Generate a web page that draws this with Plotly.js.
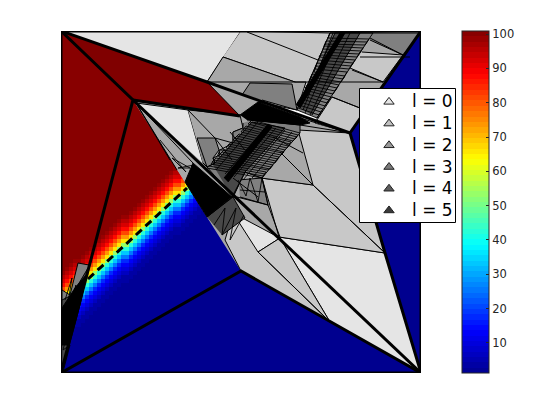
<!DOCTYPE html>
<html>
<head>
<meta charset="utf-8">
<script src="https://cdn.plot.ly/plotly-3.0.1.min.js"></script>
<style>html,body{margin:0;padding:0;background:#fff}</style>
</head>
<body>
<div id="plot" style="width:560px;height:420px"></div>
<script>
// solution field: values going away from the front, red side and blue side
const redSide = [54, 66, 74, 82, 88, 93, 96, 98, 100];
const blueSide = [42, 33, 25, 18, 13, 9, 6, 4, 3, 2];
// row of the front in each column of the 4px solution grid
const frontRow = [67,66,65,64,64,63,62,61,60,59,58,57,56,55,54,53,53,52,51,50,49,48,47,46,45,44,43,42,41,41,40,39,38,37,36,35,34,33,32,31,30,30,29,28,27];

const levelNames = ['l = 0', 'l = 1', 'l = 2', 'l = 3', 'l = 4', 'l = 5'];
const levelColors = ['#e5e5e5', '#c8c8c8', '#a8a8a8', '#808080', '#484848', '#000000'];
const legendColors = ['#e5e5e5', '#c0c0c0', '#999999', '#7a7a7a', '#5c5c5c', '#3a3a3a'];
const colorTicks = [10, 20, 30, 40, 50, 60, 70, 80, 90, 100];

const blueX = [61, 421, 241, null, 421, 350, 421];
const blueY = [373, 373, 271, null, 31, 133, 373];
const redX = [61, 207, 240, 133];
const redY = [31, 82, 116, 100];

const baseX = [133, 207, 350, 385, 421, 241, null, 330, 421, 350, 315];
const baseY = [100, 82, 133, 253, 373, 271, null, 33, 31, 133, 123];

const level0X = [61, 241, 207, null, 136, 188, 203, null, 279, 385, 421, null, 280, 330, 421, null, 233, 280, 258];
const level0Y = [31, 31, 82, null, 103, 110, 163, null, 237, 253, 373, null, 238, 322, 373, null, 213, 238, 252];
const level1X = [241, 330, 306, 295, 223, null, 298, 350, 385, 313, null, 261, 313, 385, 279, null, 233, 258, 330, 241, 225, null, 258, 280, 330, null, 362, 403, 383, 350, null, 315, 332, 365, 350];
const level1Y = [31, 33, 88, 82, 57, null, 130, 133, 253, 185, null, 178, 185, 253, 237, null, 213, 252, 322, 271, 240, null, 252, 238, 322, null, 52, 55, 82, 68, null, 123, 97, 110, 133];
const level2X = [207, 223, 295, 306, 297, 258, null, 188, 240, 243, 233, 233, 220, 215, 203, null, 298, 313, 261, 285, null, 233, 245, 262, 279, null, 136, 193, 185, null, 207, 233, 233, 225];
const level2Y = [82, 57, 82, 82, 110, 102, null, 110, 115, 128, 132, 143, 150, 162, 163, null, 130, 185, 178, 150, null, 197, 172, 178, 237, null, 103, 163, 182, null, 217, 197, 213, 240];
const level3X = [242, 250, 292, 297, 262, null, 297, 330, 373, 317, null, 373, 421, 403, 370, null, 197, 215, 219, 213, 215, 207, 203, null, 252, 300, 300, 285, 262, 245, 233, 207, 215, 213, 220, 219, 227, 233, 233, 243, 243, null, 238, 262, 268, 240, null, 62, 70, 78, 87, 89, 61];
const level3Y = [95, 83, 84, 110, 100, null, 110, 33, 33, 118, null, 33, 33, 55, 40, null, 138, 138, 150, 158, 163, 167, 163, null, 120, 125, 133, 150, 178, 172, 197, 167, 163, 158, 155, 150, 150, 143, 132, 128, 123, null, 180, 178, 205, 197, null, 290, 295, 263, 265, 265, 373];
const level4X = [213, 252, 285, 245, 232, null, 300, 335, 360, 312, null, 207, 233, 245, 222, null, 62, 72, 88, 80, 63];
const level4Y = [165, 122, 128, 172, 197, null, 108, 33, 33, 115, null, 217, 197, 218, 235, null, 300, 295, 268, 305, 368];
const level5X = [193, 232, 207, 185, null, 240, 258, 300, 310, 300, 247, null, 224, 268, 272, 228, null, 296, 340, 345, 300, null, 62, 75, 86, 78, 68, 62];
const level5Y = [163, 197, 217, 182, null, 115, 102, 117, 123, 125, 120, null, 178, 124, 127, 182, null, 105, 33, 33, 108, null, 308, 288, 275, 310, 345, 345];

const thinX = [207, 383, null, 247, 318, null, 370, 403, null, 352, 383, null, 332, 365, null, 360, 410, null, 280, 313, null, 273, 303, null, 258, 330, null, 188, 215, null, 300, 350, null, 300, 350, null, 136, 170, null, 136, 177, null, 215, 233, null, 233, 258, null, 197, 207, null, 215, 232, null, 230, 245, null, 237, 268, null, 268, 280];
const thinY = [82, 82, null, 32, 60, null, 38, 55, null, 70, 82, null, 97, 110, null, 57, 57, null, 152, 185, null, 137, 153, null, 252, 322, null, 110, 138, null, 118, 133, null, 125, 133, null, 103, 160, null, 103, 170, null, 138, 143, null, 178, 197, null, 138, 167, null, 138, 160, null, 132, 150, null, 197, 205, null, 205, 237];

// hatching of the refined cells, lines running across the bands
const meshX = [297, 317, 321, 299, 302, 325, 329, 304, 306, 333, 337, 309, 311, 341, 345, 314, 316, 349, 353, 318, 321, 357, 361, 323, 325, 365, 369, 328, 330, 373, null, 298, 319, 323, 300, 303, 327, 331, 305, 307, 335, 339, 310, 312, 343, 347, 315, 317, 351, 355, 319, 322, 359, 363, 324, 326, 367, null, 305, 340, null, 310, 350, null, 303, 333, null, 207, 262, 265, 211, 214, 268, 271, 218, 222, 275, 278, 226, 229, 281, 284, 233, 237, 287, 290, 241, 244, 293, 297, 248, 252, 300, null, 209, 263, 266, 212, 216, 270, 273, 220, 224, 276, 279, 228, 231, 282, 285, 235, 239, 288, 291, 243, 246, 295, 298, 250, null, 216, 258, null, 225, 268, null, 234, 276, null, 243, 285, null, 252, 292, null, 214, 225, 222, 236, 230, 244, null, 160, 186, 172, 190, 178, 194, null, 65, 72, 66, 76, 68, 80, null, 63, 70, 63, 68, null, 238, 246, 250, 258, 262, 268, null, 240, 265];
const meshY = [110, 118, 112, 105, 99, 106, 100, 93, 88, 94, 88, 82, 77, 82, 76, 72, 66, 69, 63, 60, 55, 57, 51, 49, 44, 45, 39, 38, 33, 33, null, 108, 115, 109, 102, 96, 103, 97, 90, 85, 91, 85, 79, 74, 79, 72, 69, 63, 66, 60, 57, 52, 54, 48, 46, 41, 42, null, 113, 33, null, 115, 33, null, 110, 33, null, 168, 178, 174, 164, 160, 170, 167, 156, 152, 163, 159, 148, 144, 155, 152, 140, 136, 148, 144, 132, 128, 141, 137, 124, 120, 133, null, 166, 176, 172, 162, 158, 169, 165, 154, 150, 161, 157, 146, 142, 153, 150, 138, 134, 146, 142, 130, 126, 139, 135, 122, null, 170, 122, null, 174, 125, null, 177, 128, null, 180, 130, null, 178, 132, null, 225, 208, 235, 208, 240, 215, null, 140, 172, 158, 168, 168, 165, null, 300, 278, 315, 285, 330, 295, null, 372, 345, 350, 330, null, 180, 196, 178, 202, 178, 205, null, 190, 192];

const thickX = [61, 421, 421, 61, 61, null, 61, 133, 61, null, 133, 421, null, 61, 241, 421, 385, 350, 421, null, 133, 240, null, 61, 207, 350];
const thickY = [31, 31, 373, 373, 31, null, 31, 100, 373, null, 100, 373, null, 373, 271, 373, 253, 133, 31, null, 100, 116, null, 31, 82, 133];
const frontX = [88, 187];
const frontY = [279, 188];

// jet, as 64 flat bands like the colorbar in the picture
function jetBands() {
    const stops = [[0, 0, 0, 143], [0.125, 0, 0, 255], [0.375, 0, 255, 255], [0.625, 255, 255, 0], [0.875, 255, 0, 0], [1, 128, 0, 0]];
    const scale = [];
    for (let k = 0; k < 64; k++) {
        const t = (k + 0.5) / 64;
        let i = 0;
        while (t > stops[i + 1][0]) i++;
        const f = (t - stops[i][0]) / (stops[i + 1][0] - stops[i][0]);
        const c = [1, 2, 3].map(n => Math.round(stops[i][n] + f * (stops[i + 1][n] - stops[i][n])));
        const col = 'rgb(' + c.join(',') + ')';
        scale.push([k / 64, col], [(k + 1) / 64, col]);
    }
    return scale;
}

function fieldRows() {
    const rows = [];
    for (let j = 0; j < 86; j++) {
        const row = frontRow.map(front => {
            const d = front - j;
            if (d >= 0) return redSide[Math.min(d, redSide.length - 1)];
            return blueSide[Math.min(-d - 1, blueSide.length - 1)];
        });
        rows.push(row);
    }
    return rows;
}

function region(x, y, color) {
    return {
        x: x, y: y, type: 'scatter', mode: 'lines', fill: 'toself', fillcolor: color,
        line: {color: '#000', width: 1}, showlegend: false, hoverinfo: 'skip'
    };
}

function strokes(x, y, width, dash) {
    return {
        x: x, y: y, type: 'scatter', mode: 'lines', cliponaxis: false,
        line: {color: '#000', width: width, dash: dash || 'solid'}, showlegend: false, hoverinfo: 'skip'
    };
}

const traces = [
    {
        type: 'heatmap', z: fieldRows(), x0: 63, dx: 4, y0: 33, dy: 4,
        zmin: 1.2, zmax: 100.9, colorscale: jetBands(), hoverinfo: 'skip',
        colorbar: {
            x: 401 / 360, xanchor: 'left', xpad: 0, ypad: 0, y: 0.5, len: 1, thickness: 27,
            outlinecolor: '#262626', outlinewidth: 1, tickvals: colorTicks, ticks: 'inside',
            ticklen: 3, tickcolor: '#262626', tickfont: {family: 'DejaVu Sans', size: 11.5, color: '#262626'}
        }
    },
    region(blueX, blueY, '#00008f'),
    region(baseX, baseY, levelColors[2]),
    region(redX, redY, '#800000'),
    region(level0X, level0Y, levelColors[0]),
    region(level1X, level1Y, levelColors[1]),
    region(level2X, level2Y, levelColors[2]),
    region(level3X, level3Y, levelColors[3]),
    region(level4X, level4Y, levelColors[4]),
    region(level5X, level5Y, levelColors[5]),
    strokes(meshX, meshY, 0.9),
    strokes(thinX, thinY, 1),
    strokes(thickX, thickY, 3),
    strokes(frontX, frontY, 3, '8px,5px')
];

levelNames.forEach((name, i) => {
    traces.push({
        x: [null], y: [null], type: 'scatter', mode: 'markers',
        name: '<span style="font-size:17px">' + name + '</span>',
        marker: {symbol: 'triangle-up', size: 9, color: legendColors[i], line: {color: '#222', width: 1}}
    });
});

const layout = {
    width: 560, height: 420,
    margin: {l: 61, r: 139, t: 31, b: 47},
    paper_bgcolor: '#fff', plot_bgcolor: '#fff',
    font: {family: 'DejaVu Sans', color: '#000'},
    xaxis: {range: [61, 421], showgrid: false, zeroline: false, showticklabels: false, ticks: ''},
    yaxis: {range: [373, 31], showgrid: false, zeroline: false, showticklabels: false, ticks: ''},
    // legend box is a shape: plotly pads its own box taller than the one in the picture
    shapes: [{type: 'rect', xref: 'paper', yref: 'paper', x0: 298.5 / 360, x1: 394.5 / 360, y0: 150.5 / 342, y1: 284.5 / 342,
        fillcolor: '#fff', line: {color: '#000', width: 1}, layer: 'above'}],
    legend: {
        x: 305 / 360, xanchor: 'left', y: 287 / 342, yanchor: 'top', bgcolor: 'rgba(0,0,0,0)', itemwidth: 36,
        borderwidth: 0, font: {family: 'DejaVu Sans', size: 14.4, color: '#000'}
    }
};

Plotly.newPlot('plot', traces, layout, {displayModeBar: false});
</script>
</body>
</html>
